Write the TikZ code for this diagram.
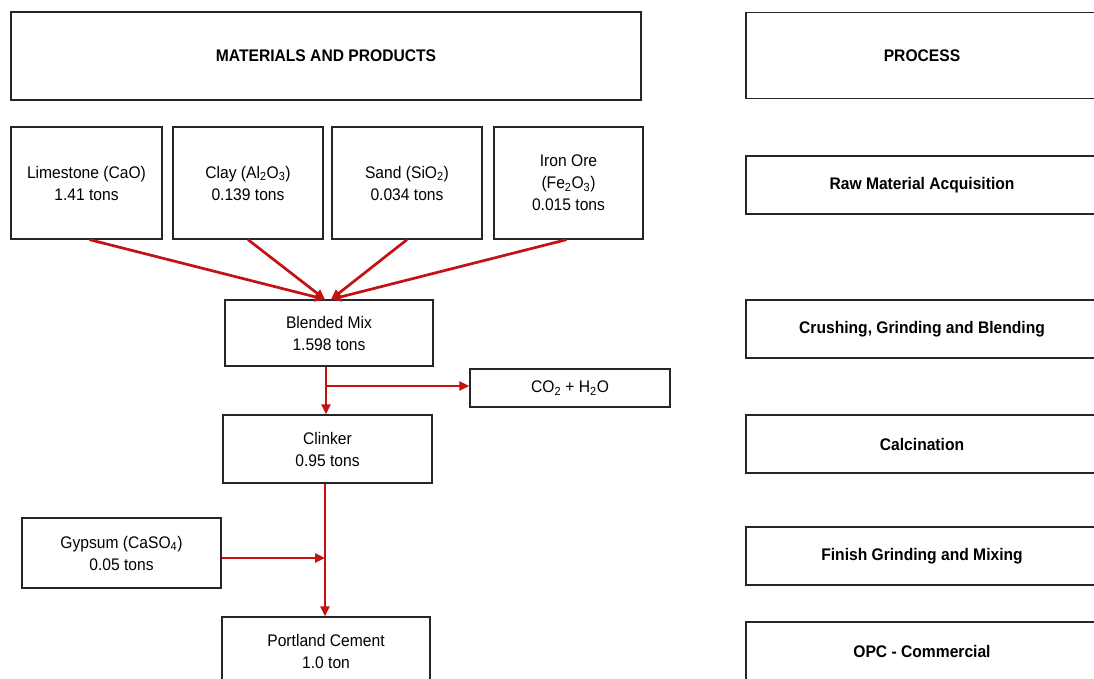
\documentclass[tikz,border=0pt]{standalone}
\usepackage{fontspec}
\setmainfont[FakeStretch=0.93]{Liberation Sans}
\usetikzlibrary{arrows.meta,calc}
\definecolor{arrred}{RGB}{196,18,18}
\begin{document}
\begin{tikzpicture}[x=1pt,y=-1pt,
  box/.style={draw=black!85,line width=1.3pt,align=center,inner sep=0pt,font=\fontsize{16.8}{22}\selectfont},
  hbox/.style={box,font=\bfseries\fontsize{16.8}{22}\selectfont},
  arr/.style={draw=arrred,line width=2.7pt,-{Triangle[length=10pt,width=9pt]}},
  ln/.style={draw=arrred,line width=2.7pt}]
\useasboundingbox (0,0) rectangle (1094,679);
\clip (0,0) rectangle (1094,679);
\fill[white] (0,0) rectangle (1094,679);
% headers
\node[hbox,minimum width=630pt,minimum height=88pt] (mat) at (326,56) {MATERIALS AND PRODUCTS};
\node[hbox,minimum width=352pt,minimum height=86pt] (proc) at (922,55.5) {PROCESS};
% raw materials
\node[box,minimum width=151pt,minimum height=112pt] (lime) at (86.5,183) {Limestone (CaO)\\1.41 tons};
\node[box,minimum width=150pt,minimum height=112pt] (clay) at (248,183) {Clay (Al\textsubscript{2}O\textsubscript{3})\\0.139 tons};
\node[box,minimum width=150pt,minimum height=112pt] (sand) at (407,183) {Sand (SiO\textsubscript{2})\\0.034 tons};
\node[box,minimum width=149pt,minimum height=112pt] (iron) at (568.5,183) {Iron Ore\\(Fe\textsubscript{2}O\textsubscript{3})\\0.015 tons};
% products
\node[box,minimum width=208pt,minimum height=66pt] (blend) at (329,333) {Blended Mix\\1.598 tons};
\node[box,minimum width=200pt,minimum height=38pt] (co2) at (570,388) {CO\textsubscript{2} + H\textsubscript{2}O};
\node[box,minimum width=209pt,minimum height=68pt] (clinker) at (327.5,449) {Clinker\\0.95 tons};
\node[box,minimum width=199pt,minimum height=70pt] (gyp) at (121.5,553) {Gypsum (CaSO\textsubscript{4})\\0.05 tons};
\node[box,minimum width=208pt,minimum height=68pt] (port) at (326,651) {Portland Cement\\1.0 ton};
% process column
\node[hbox,minimum width=352pt,minimum height=58pt] (raw) at (922,185) {Raw Material Acquisition};
\node[hbox,minimum width=352pt,minimum height=58pt] (crush) at (922,329) {Crushing, Grinding and Blending};
\node[hbox,minimum width=352pt,minimum height=58pt] (calc) at (922,444) {Calcination};
\node[hbox,minimum width=352pt,minimum height=58pt] (finish) at (922,556) {Finish Grinding and Mixing};
\node[hbox,minimum width=352pt,minimum height=58pt] (opc) at (922,651) {OPC - Commercial};
% connectors
\coordinate (tl) at ($(blend.north)+(-4,0)$);
\coordinate (tr) at ($(blend.north)+(2,0)$);
\draw[arr] ($(lime.south)+(3,0)$) -- (tl);
\draw[arr] (clay.south) -- (tl);
\draw[arr] (sand.south) -- (tr);
\draw[arr] ($(iron.south)+(-2,0)$) -- (tr);
\coordinate (j1) at (326,386);
\draw[arr] (blend.south -| j1) -- (clinker.north -| j1);
\draw[arr] (j1) -- (co2.west |- j1);
\coordinate (j2) at (325,558);
\draw[arr] (clinker.south -| j2) -- (port.north -| j2);
\draw[arr] (gyp.east |- j2) -- (j2);
\end{tikzpicture}
\end{document}
